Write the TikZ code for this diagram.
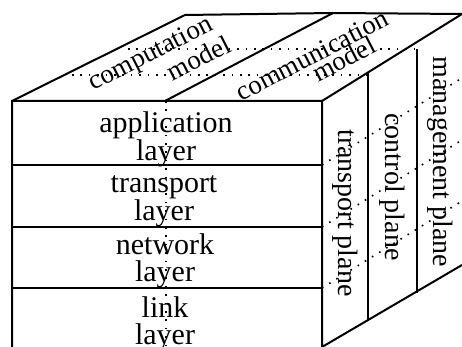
\documentclass[tikz,border=0pt]{standalone}
\usepackage{fontspec}
\setmainfont{Liberation Serif}
\begin{document}
\begin{tikzpicture}[x=1pt,y=-1pt,line width=2pt,
    hid/.style={line width=1.6pt,dash pattern=on 1.6pt off 6.8pt},
    lay/.style={align=center,font=\fontsize{30}{26.5}\selectfont},
    pln/.style={rotate=-90,font=\fontsize{28}{28}\selectfont},
    mdl/.style={anchor=base,font=\fontsize{27}{27}\selectfont}]
  \useasboundingbox (0,0) rectangle (462,347);
  \coordinate (FTL) at (12,101);  \coordinate (FTR) at (322,101);
  \coordinate (FBL) at (12,347);  \coordinate (FBR) at (322,347);
  \coordinate (BTL) at (185,15);  \coordinate (BTM) at (333,13);
  \coordinate (BTR) at (462,14);  \coordinate (BBR) at (462,265);
  \draw (FBL) -- (FTL) -- (FTR) -- (FBR) -- (BBR);
  \draw (FTL) -- (BTL) -- (BTM) -- (BTR) -- (FTR);
  \draw (165,101) -- (BTM);
  \draw (12,165) -- (322,165) (12,227) -- (322,227) (12,288) -- (322,288);
  \draw (368,72) -- (368,321) (417,49) -- (417,293);
  \draw[hid] (166,101) -- (166,347) (72,75) -- (368,75) (128,49) -- (417,49);
  \draw[hid] (322,165) -- (462,78) (322,227) -- (462,140) (322,288) -- (462,201);
  \begin{scope}[every node/.style={lay}]
    \node (APP) at (166,139) {application\\layer};
    \node (TRA) at (164,201) {transport\\layer};
    \node (NET) at (165,261) {network\\layer};
    \node (LNK) at (165,324) {link\\layer};
  \end{scope}
  \node[pln] (TP) at (345,213) {transport plane};
  \node[pln] (CP) at (392,187) {control plane};
  \node[pln] (MP) at (440,162) {management plane};
  \node[mdl,rotate=27] (COMP) at (154,60) {computation};
  \node[mdl,rotate=27] (COMPM) at (203,66) {model};
  \node[mdl,rotate=27.4] (COMM) at (316,63) {communication};
  \node[mdl,rotate=27.4] (COMMM) at (348,67) {model};
\end{tikzpicture}
\end{document}
